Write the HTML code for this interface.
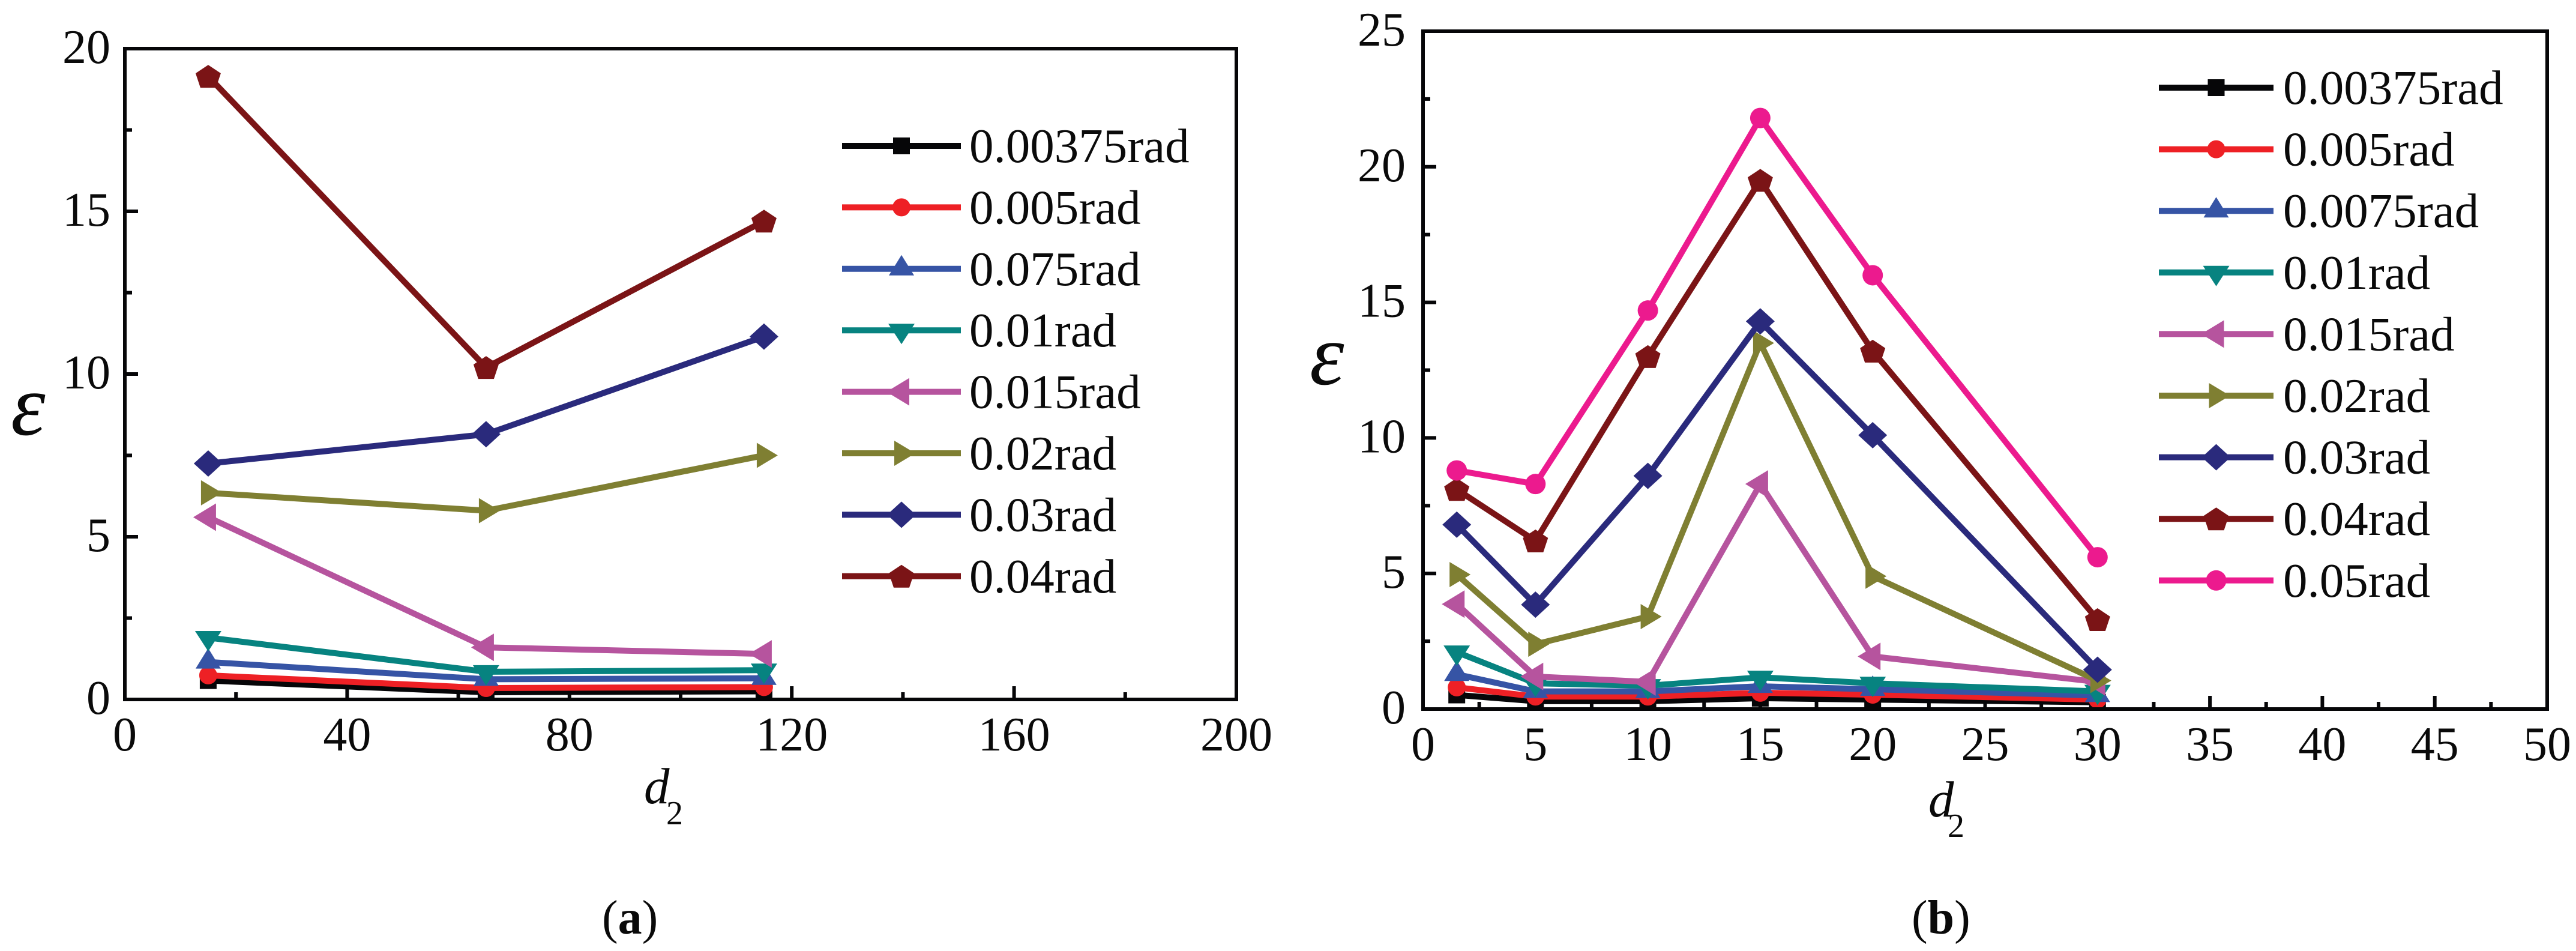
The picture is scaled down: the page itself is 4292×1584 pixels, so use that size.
<!DOCTYPE html>
<html lang="en">
<head>
<meta charset="utf-8">
<title>Charts of epsilon versus d2</title>
<style>
html,body{margin:0;padding:0;background:#fff;width:4292px;height:1584px;overflow:hidden}
svg{display:block}
text{font-family:"Liberation Serif","DejaVu Serif",serif;fill:#0a0a0a}
</style>
</head>
<body>
<svg id="figure" xmlns="http://www.w3.org/2000/svg" width="4292" height="1584" viewBox="0 0 4292 1584">
  <rect x="0" y="0" width="4292" height="1584" fill="#ffffff"/>
  <g id="chart-a"></g>
  <g id="chart-b"></g>
  <text x="18" y="724" font-size="146" font-style="italic">ε</text>
  <text x="1073" y="1338" font-size="85" font-style="italic">d</text>
  <text x="1110" y="1373" font-size="56">2</text>
  <text x="1003" y="1555" font-size="80" fill="#231f20">(<tspan font-weight="bold">a</tspan>)</text>
  <text x="2182" y="640" font-size="146" font-style="italic">ε</text>
  <text x="3213" y="1360" font-size="85" font-style="italic">d</text>
  <text x="3245" y="1394" font-size="56">2</text>
  <text x="3185" y="1555" font-size="80" fill="#231f20">(<tspan font-weight="bold">b</tspan>)</text>
</svg>
<script>
// ---------- Chart (a) data ----------
const categoriesA = [15, 65, 115];
const labelsA = ["0.00375rad", "0.005rad", "0.075rad", "0.01rad", "0.015rad", "0.02rad", "0.03rad", "0.04rad"];
const a00375 = [0.58, 0.22, 0.25];
const a005 = [0.74, 0.35, 0.38];
const a075 = [1.15, 0.62, 0.65];
const a01 = [1.9, 0.85, 0.9];
const a015 = [5.6, 1.6, 1.4];
const a02 = [6.35, 5.8, 7.5];
const a03 = [7.25, 8.15, 11.15];
const a04 = [19.15, 10.2, 14.7];
const seriesA = [a00375, a005, a075, a01, a015, a02, a03, a04];
const xTicksA = [0, 40, 80, 120, 160, 200];
const yTicksA = [0, 5, 10, 15, 20];

// ---------- Chart (b) data ----------
const categoriesB = [1.5, 5, 10, 15, 20, 30];
const labelsB = ["0.00375rad", "0.005rad", "0.0075rad", "0.01rad", "0.015rad", "0.02rad", "0.03rad", "0.04rad", "0.05rad"];
const b00375 = [0.52, 0.29, 0.29, 0.4, 0.35, 0.25];
const b005 = [0.8, 0.46, 0.46, 0.6, 0.53, 0.35];
const b0075 = [1.28, 0.65, 0.65, 0.84, 0.73, 0.5];
const b01 = [2.1, 0.95, 0.86, 1.17, 0.95, 0.65];
const b015 = [3.87, 1.2, 1.0, 8.3, 1.94, 1.0];
const b02 = [4.96, 2.39, 3.41, 13.5, 4.9, 1.05];
const b03 = [6.8, 3.85, 8.6, 14.3, 10.1, 1.45];
const b04 = [8.1, 6.2, 13.0, 19.5, 13.2, 3.3];
const b05 = [8.8, 8.3, 14.7, 21.8, 16.0, 5.6];
const seriesB = [b00375, b005, b0075, b01, b015, b02, b03, b04, b05];
const xTicksB = [0, 5, 10, 15, 20, 25, 30, 35, 40, 45, 50];
const yTicksB = [0, 5, 10, 15, 20, 25];

// ---------- Styles ----------
const COLORS = ["#060608", "#ee2025", "#3654a5", "#078380", "#b6549e", "#7f7f32", "#2a2a7c", "#7b1416", "#ec1a8e"];
const SHAPES = ["square", "circle", "up", "down", "left", "right", "diamond", "pentagon", "bigcircle"];
const NS = "http://www.w3.org/2000/svg";

function mk(parent, tag, attrs) {
  const el = document.createElementNS(NS, tag);
  for (const k in attrs) el.setAttribute(k, attrs[k]);
  parent.appendChild(el);
  return el;
}

function drawMarker(parent, shape, x, y, color) {
  let el;
  const poly = pts => mk(parent, "polygon", {
    points: pts.map(p => (x + p[0]) + "," + (y + p[1])).join(" "), fill: color
  });
  if (shape === "square") el = mk(parent, "rect", { x: x - 14, y: y - 14, width: 28, height: 28, fill: color });
  else if (shape === "circle") el = mk(parent, "circle", { cx: x, cy: y, r: 15, fill: color });
  else if (shape === "bigcircle") el = mk(parent, "circle", { cx: x, cy: y, r: 17, fill: color });
  else if (shape === "up") el = poly([[0, -23], [21, 11], [-21, 11]]);
  else if (shape === "down") el = poly([[-22, -11], [22, -11], [0, 23]]);
  else if (shape === "left") el = poly([[-25, 0], [13, -23], [13, 23]]);
  else if (shape === "right") el = poly([[-12, -21], [23, 0], [-12, 21]]);
  else if (shape === "diamond") el = poly([[0, -22], [24, 0], [0, 22], [-24, 0]]);
  else el = poly([[0, -19], [21, -5], [13, 19], [-13, 19], [-21, -5]]);
  
  
}

function drawChart(root, cfg) {
  const sx = v => cfg.x0 + (v - cfg.xMin) / (cfg.xMax - cfg.xMin) * (cfg.x1 - cfg.x0);
  const sy = v => cfg.y0 + (v - cfg.yMin) / (cfg.yMax - cfg.yMin) * (cfg.y1 - cfg.y0);

  // x ticks and labels
  cfg.xTicks.forEach((t, i) => {
    const px = sx(t);
    const tick = mk(root, "line", { x1: px, x2: px, y1: cfg.y0, y2: cfg.y0 - 22, stroke: "#060608", "stroke-width": 6 });
    
    
    const lab = mk(root, "text", { x: px, y: cfg.xLabelY, "font-size": 80, "text-anchor": "middle" });
    lab.textContent = t;
    
    
    if (i < cfg.xTicks.length - 1) {
      const mx = sx((t + cfg.xTicks[i + 1]) / 2);
      const minor = mk(root, "line", { x1: mx, x2: mx, y1: cfg.y0, y2: cfg.y0 - 12, stroke: "#060608", "stroke-width": 6 });
      
      
    }
  });

  // y ticks and labels
  cfg.yTicks.forEach((t, i) => {
    const py = sy(t);
    const tick = mk(root, "line", { x1: cfg.x0, x2: cfg.x0 + 22, y1: py, y2: py, stroke: "#060608", "stroke-width": 6 });
    
    
    const lab = mk(root, "text", { x: cfg.yLabelX, y: py + 24, "font-size": 80, "text-anchor": "end" });
    lab.textContent = t;
    
    
    if (i < cfg.yTicks.length - 1) {
      const my = sy((t + cfg.yTicks[i + 1]) / 2);
      const minor = mk(root, "line", { x1: cfg.x0, x2: cfg.x0 + 12, y1: my, y2: my, stroke: "#060608", "stroke-width": 6 });
      
      
    }
  });

  // series
  cfg.series.forEach((vals, i) => {
    const g = mk(root, "g", {});
    
    
    const pts = vals.map((v, j) => sx(cfg.categories[j]) + "," + sy(v)).join(" ");
    const line = mk(g, "polyline", { points: pts, fill: "none", stroke: COLORS[i], "stroke-width": 10, "stroke-linejoin": "miter" });
    
    
    vals.forEach((v, j) => drawMarker(g, SHAPES[i], sx(cfg.categories[j]), sy(v), COLORS[i]));
  });

  // plot frame
  const frame = mk(root, "rect", {
    x: cfg.x0, y: cfg.y1, width: cfg.x1 - cfg.x0, height: cfg.y0 - cfg.y1,
    fill: "none", stroke: "#060608", "stroke-width": 6
  });
  
  

  // legend
  cfg.labels.forEach((name, i) => {
    const y = cfg.legendY + i * cfg.legendStep;
    const g = mk(root, "g", {});
    
    
    const ln = mk(g, "line", { x1: cfg.legendX0, x2: cfg.legendX1, y1: y, y2: y, stroke: COLORS[i], "stroke-width": 10 });
    
    
    drawMarker(g, SHAPES[i], (cfg.legendX0 + cfg.legendX1) / 2, y, COLORS[i]);
    const t = mk(g, "text", { x: cfg.legendTextX, y: y + 27, "font-size": 81 });
    t.textContent = name;
    
    
  });
}

drawChart(document.getElementById("chart-a"), {
  x0: 208, x1: 2060, y0: 1165, y1: 81,
  xMin: 0, xMax: 200, yMin: 0, yMax: 20,
  xTicks: xTicksA, yTicks: yTicksA,
  categories: categoriesA, series: seriesA, labels: labelsA,
  xLabelY: 1250, yLabelX: 184,
  legendX0: 1403, legendX1: 1601, legendY: 243, legendStep: 102.4, legendTextX: 1615
});

drawChart(document.getElementById("chart-b"), {
  x0: 2371, x1: 4244, y0: 1181, y1: 52,
  xMin: 0, xMax: 50, yMin: 0, yMax: 25,
  xTicks: xTicksB, yTicks: yTicksB,
  categories: categoriesB, series: seriesB, labels: labelsB,
  xLabelY: 1266, yLabelX: 2342,
  legendX0: 3597, legendX1: 3788, legendY: 146, legendStep: 102.6, legendTextX: 3804
});
</script>
</body>
</html>
